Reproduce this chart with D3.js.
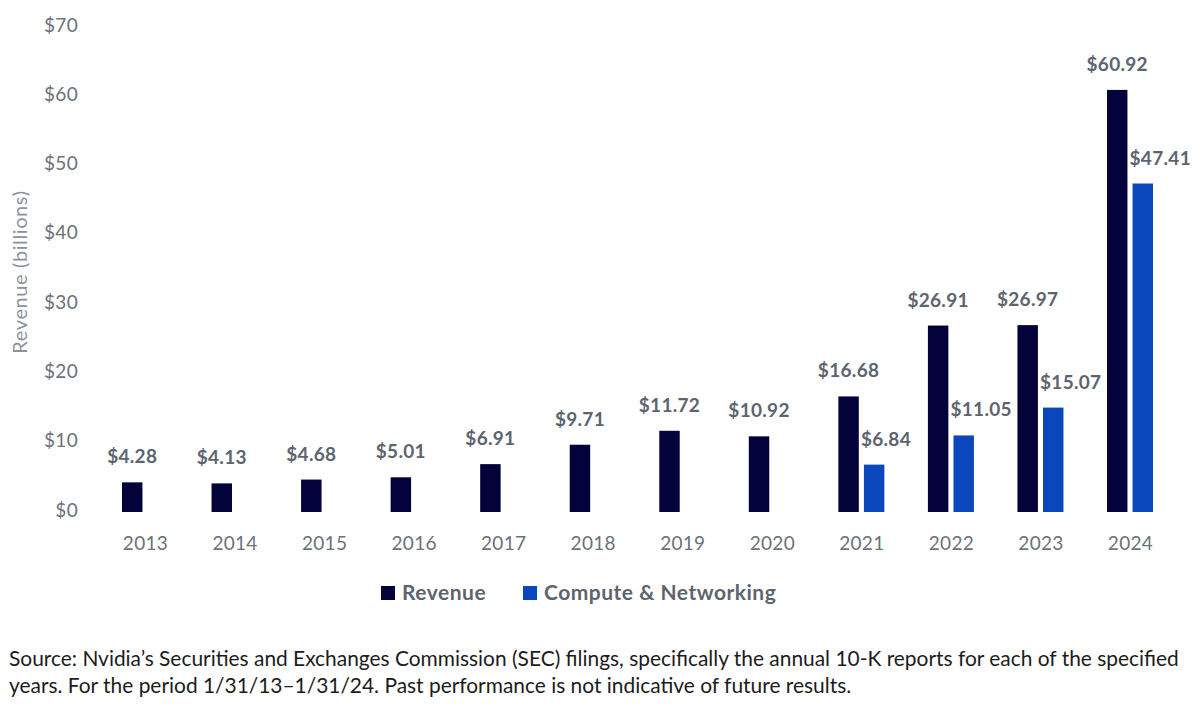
<!DOCTYPE html>
<html>
<head>
<meta charset="utf-8">
<script src="https://cdn.jsdelivr.net/npm/d3@7"></script>
<style>
  body { margin: 0; background: #fff; }
  svg text { font-family: Lato, "Open Sans", sans-serif; }
</style>
</head>
<body>
<div id="chart-area"></div>
<script>
// chart data
var years = ["2013", "2014", "2015", "2016", "2017", "2018", "2019", "2020", "2021", "2022", "2023", "2024"];
var revenue = [4.28, 4.13, 4.68, 5.01, 6.91, 9.71, 11.72, 10.92, 16.68, 26.91, 26.97, 60.92];
var compute = [null, null, null, null, null, null, null, null, 6.84, 11.05, 15.07, 47.41];
var yTicks = [0, 10, 20, 30, 40, 50, 60, 70];
var seriesNames = ["Revenue", "Compute & Networking"];
var sourceLines = [
	"Source: Nvidia\u2019s Securities and Exchanges Commission (SEC) filings, specifically the annual 10-K reports for each of the specified",
	"years. For the period 1/31/13\u20131/31/24. Past performance is not indicative of future results."
];

var width = 1200,
	height = 711;

var colors = ["#03023a", "#0a47bd"];
var labelColor = "#5d6470";

var svg = d3.select("#chart-area").append("svg")
	.attr("width", width)
	.attr("height", height);

// scales
var xScale = d3.scalePoint()
	.domain(years)
	.range([145, 1130]);

var subScale = d3.scaleBand()
	.domain(seriesNames)
	.range([-23, 23])
	.paddingInner(0.2);

var yScale = d3.scaleLinear()
	.domain([0, 70])
	.range([512, 27]);

// y axis
var yAxis = d3.axisLeft(yScale)
	.tickValues(yTicks)
	.tickSize(0)
	.tickPadding(0)
	.tickFormat(function(d) { return "$" + d; });

var yG = svg.append("g")
	.attr("transform", "translate(78,0)")
	.call(yAxis);
yG.select(".domain").remove();
yG.selectAll("text")
	.attr("dy", "0.32em")
	.attr("y", -2)
	.style("font-size", "19px")
	.style("letter-spacing", "0.3px")
	.style("fill", "#6c717a");

svg.append("text")
	.attr("transform", "translate(27,272) rotate(-90)")
	.attr("text-anchor", "middle")
	.style("font-size", "20px")
	.style("letter-spacing", "0.6px")
	.style("fill", "#8c929b")
	.text("Revenue (billions)");

// x axis labels
var xAxis = d3.axisBottom(xScale)
	.tickSize(0)
	.tickPadding(0);
var xG = svg.append("g")
	.attr("transform", "translate(0,543)")
	.call(xAxis);
xG.select(".domain").remove();
xG.selectAll("text")
	.attr("y", 0)
	.attr("dy", "0.35em")
	.style("font-size", "19px")
	.style("letter-spacing", "0.3px")
	.style("fill", "#6c717a");

// build rows for bars
var rows = [];
years.forEach(function(y, i) {
	rows.push({year: y, series: seriesNames[0], value: revenue[i], idx: 0});
	if (compute[i] != null) {
		rows.push({year: y, series: seriesNames[1], value: compute[i], idx: 1});
	}
});

svg.selectAll("rect.bar")
	.data(rows)
	.enter()
	.append("rect")
	.attr("class", "bar")
	.attr("x", function(d) { return xScale(d.year) + subScale(d.series); })
	.attr("y", function(d) { return yScale(d.value); })
	.attr("width", subScale.bandwidth())
	.attr("height", function(d) { return yScale(0) - yScale(d.value); })
	.attr("fill", function(d) { return colors[d.idx]; });

// value labels
svg.selectAll("text.val")
	.data(rows)
	.enter()
	.append("text")
	.attr("class", "val")
	.attr("x", function(d) {
		var x = xScale(d.year) + subScale(d.series);
		return d.idx == 0 ? x + subScale.bandwidth() / 2 : x - 3;
	})
	.attr("y", function(d) { return yScale(d.value) - 19; })
	.attr("text-anchor", function(d) { return d.idx == 0 ? "middle" : "start"; })
	.style("font-size", "19px")
	.style("font-weight", "bold")
	.style("letter-spacing", "0.3px")
	.style("fill", labelColor)
	.text(function(d) { return "$" + d.value.toFixed(2); });

// legend
var legendX = [381, 523];
var legend = svg.selectAll("g.legend")
	.data(seriesNames)
	.enter()
	.append("g")
	.attr("class", "legend")
	.attr("transform", function(d, i) { return "translate(" + legendX[i] + ",586)"; });
legend.append("rect")
	.attr("width", 14)
	.attr("height", 14)
	.attr("fill", function(d, i) { return colors[i]; });
legend.append("text")
	.attr("x", 21)
	.attr("y", 7)
	.attr("dy", "0.35em")
	.style("font-size", "21px")
	.style("font-weight", "bold")
	.style("letter-spacing", "0.5px")
	.style("fill", labelColor)
	.text(function(d) { return d; });

// source note, sized so the first line spans the page like the original
var src = svg.selectAll("text.src")
	.data(sourceLines)
	.enter()
	.append("text")
	.attr("class", "src")
	.attr("x", 9)
	.attr("y", function(d, i) { return 659 + i * 27; })
	.attr("dy", "0.35em")
	.style("font-size", "18px")
	.style("fill", "#1c1c1c")
	.text(function(d) { return d; });

var firstLen = src.node().getComputedTextLength();
src.style("font-size", (18 * 1171 / firstLen) + "px");
</script>
</body>
</html>
